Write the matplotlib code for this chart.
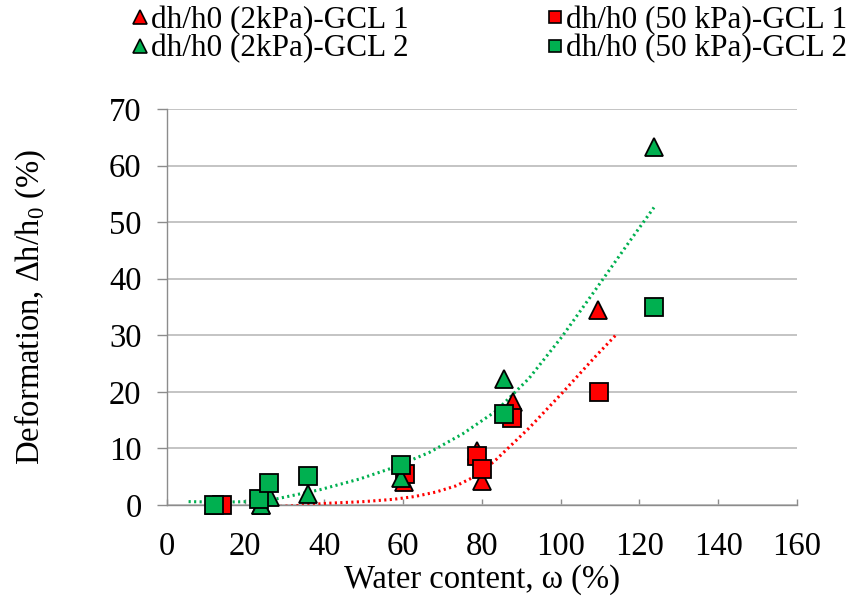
import numpy as np
import matplotlib.pyplot as plt
from matplotlib.lines import Line2D

plt.rcParams["font.family"] = ["Liberation Serif", "DejaVu Serif"]
plt.rcParams["mathtext.fontset"] = "custom"
plt.rcParams["mathtext.rm"] = "Liberation Serif"

# GCL 1 (red)
x_gcl1_2kpa = [24, 60.3, 80, 78.9, 87.8, 109.5]
y_gcl1_2kpa = [0, 4.1, 4.3, 9.6, 18.2, 34.4]
x_gcl1_50kpa = [14, 60.4, 78.9, 80, 87.7, 109.7]
y_gcl1_50kpa = [0, 5.5, 8.7, 6.3, 15.4, 20.0]

# GCL 2 (green)
x_gcl2_2kpa = [12, 24, 26.3, 36, 59.5, 85.7, 123.6]
y_gcl2_2kpa = [0, 0, 1.5, 2.0, 4.8, 22.2, 63.3]
x_gcl2_50kpa = [12.1, 23.5, 26, 36, 59.5, 85.7, 123.6]
y_gcl2_50kpa = [0, 1.0, 3.9, 5.2, 7.1, 16.1, 35.0]

# trend lines
trend_red_x = [24.6, 33, 40.6, 50, 57.5, 63, 68.4, 73.5, 79, 83.6, 92.0,
               100.4, 108.9, 114.1]
trend_red_y = [-0.4, -0.1, 0.3, 0.6, 1.0, 1.5, 2.3, 3.4, 5.3, 8.0, 13.6,
               19.8, 26.3, 30.1]
trend_green_x = [5.6, 14, 20.4, 28.0, 38.9, 49.0, 57.5, 66.7, 75.2, 83.6,
                 92.0, 100.4, 108.9, 117.3, 123.7]
trend_green_y = [0.6, 0.5, 0.6, 1.1, 2.7, 4.6, 6.6, 9.3, 12.6, 16.6,
                 22.4, 29.8, 38.1, 46.4, 52.6]

labels = ["dh/h0 (2kPa)-GCL 1", "dh/h0 (2kPa)-GCL 2",
          "dh/h0 (50 kPa)-GCL 1", "dh/h0 (50 kPa)-GCL 2"]

red = "#ff0000"
green = "#00b050"
grey = "#8c8c8c"
fs = 23.5

fig = plt.figure(figsize=(8.61, 6.03), dpi=100)
ax = fig.add_axes([0.1934, 0.1625, 0.7323, 0.6567])

# trend lines
ax.plot(trend_red_x, trend_red_y, color=red, lw=2.2, linestyle=(0, (0.7, 1.1)),
        dash_capstyle="butt", zorder=2)
ax.plot(trend_green_x, trend_green_y, color=green, lw=2.2, linestyle=(0, (0.7, 1.1)),
        dash_capstyle="butt", zorder=2)

mk = dict(ms=13.5, mec="black", mew=1.3, ls="none", clip_on=False)
ax.plot(x_gcl1_2kpa, y_gcl1_2kpa, marker="^", mfc=red, zorder=3, **mk)
ax.plot(x_gcl1_50kpa, y_gcl1_50kpa, marker="s", mfc=red, zorder=4, **mk)
ax.plot(x_gcl2_2kpa, y_gcl2_2kpa, marker="^", mfc=green, zorder=5, **mk)
ax.plot(x_gcl2_50kpa, y_gcl2_50kpa, marker="s", mfc=green, zorder=6, **mk)

ax.set_xlim(0, 160)
ax.set_ylim(0, 70)
ax.set_xticks(np.arange(0, 161, 20))
ax.set_yticks(np.arange(0, 71, 10))
ax.yaxis.grid(True, color="#b4b4b4", lw=1.1)
ax.set_axisbelow(True)

for s in ["top", "right"]:
    ax.spines[s].set_visible(False)
for s in ["left", "bottom"]:
    ax.spines[s].set_color(grey)
    ax.spines[s].set_linewidth(1.0)

ax.tick_params(axis="y", direction="out", length=7, width=1.0, color=grey,
               labelsize=fs, pad=11)
ax.tick_params(axis="x", direction="in", length=4.5, width=1.0, color=grey,
               labelsize=fs, pad=19)

ax.set_xlabel("Water content, ω (%)", fontsize=fs, labelpad=2)
ax.set_ylabel("Deformation, Δh/h$_\\mathregular{0}$ (%)", fontsize=fs, labelpad=44)

handles = [
    Line2D([], [], marker="^", ms=10, mfc=red, mec="black", mew=1.2, ls="none"),
    Line2D([], [], marker="^", ms=10, mfc=green, mec="black", mew=1.2, ls="none"),
    Line2D([], [], marker="s", ms=9, mfc=red, mec="black", mew=1.2, ls="none"),
    Line2D([], [], marker="s", ms=9, mfc=green, mec="black", mew=1.2, ls="none"),
]
fig.legend(handles, labels, ncol=2, loc="upper left", bbox_to_anchor=(0.139, 1.011),
           frameon=False, fontsize=22.5, handlelength=0.5, handletextpad=0.1,
           columnspacing=4.45, labelspacing=-0.03, borderaxespad=0)

fig.savefig("out.png", dpi=100)
